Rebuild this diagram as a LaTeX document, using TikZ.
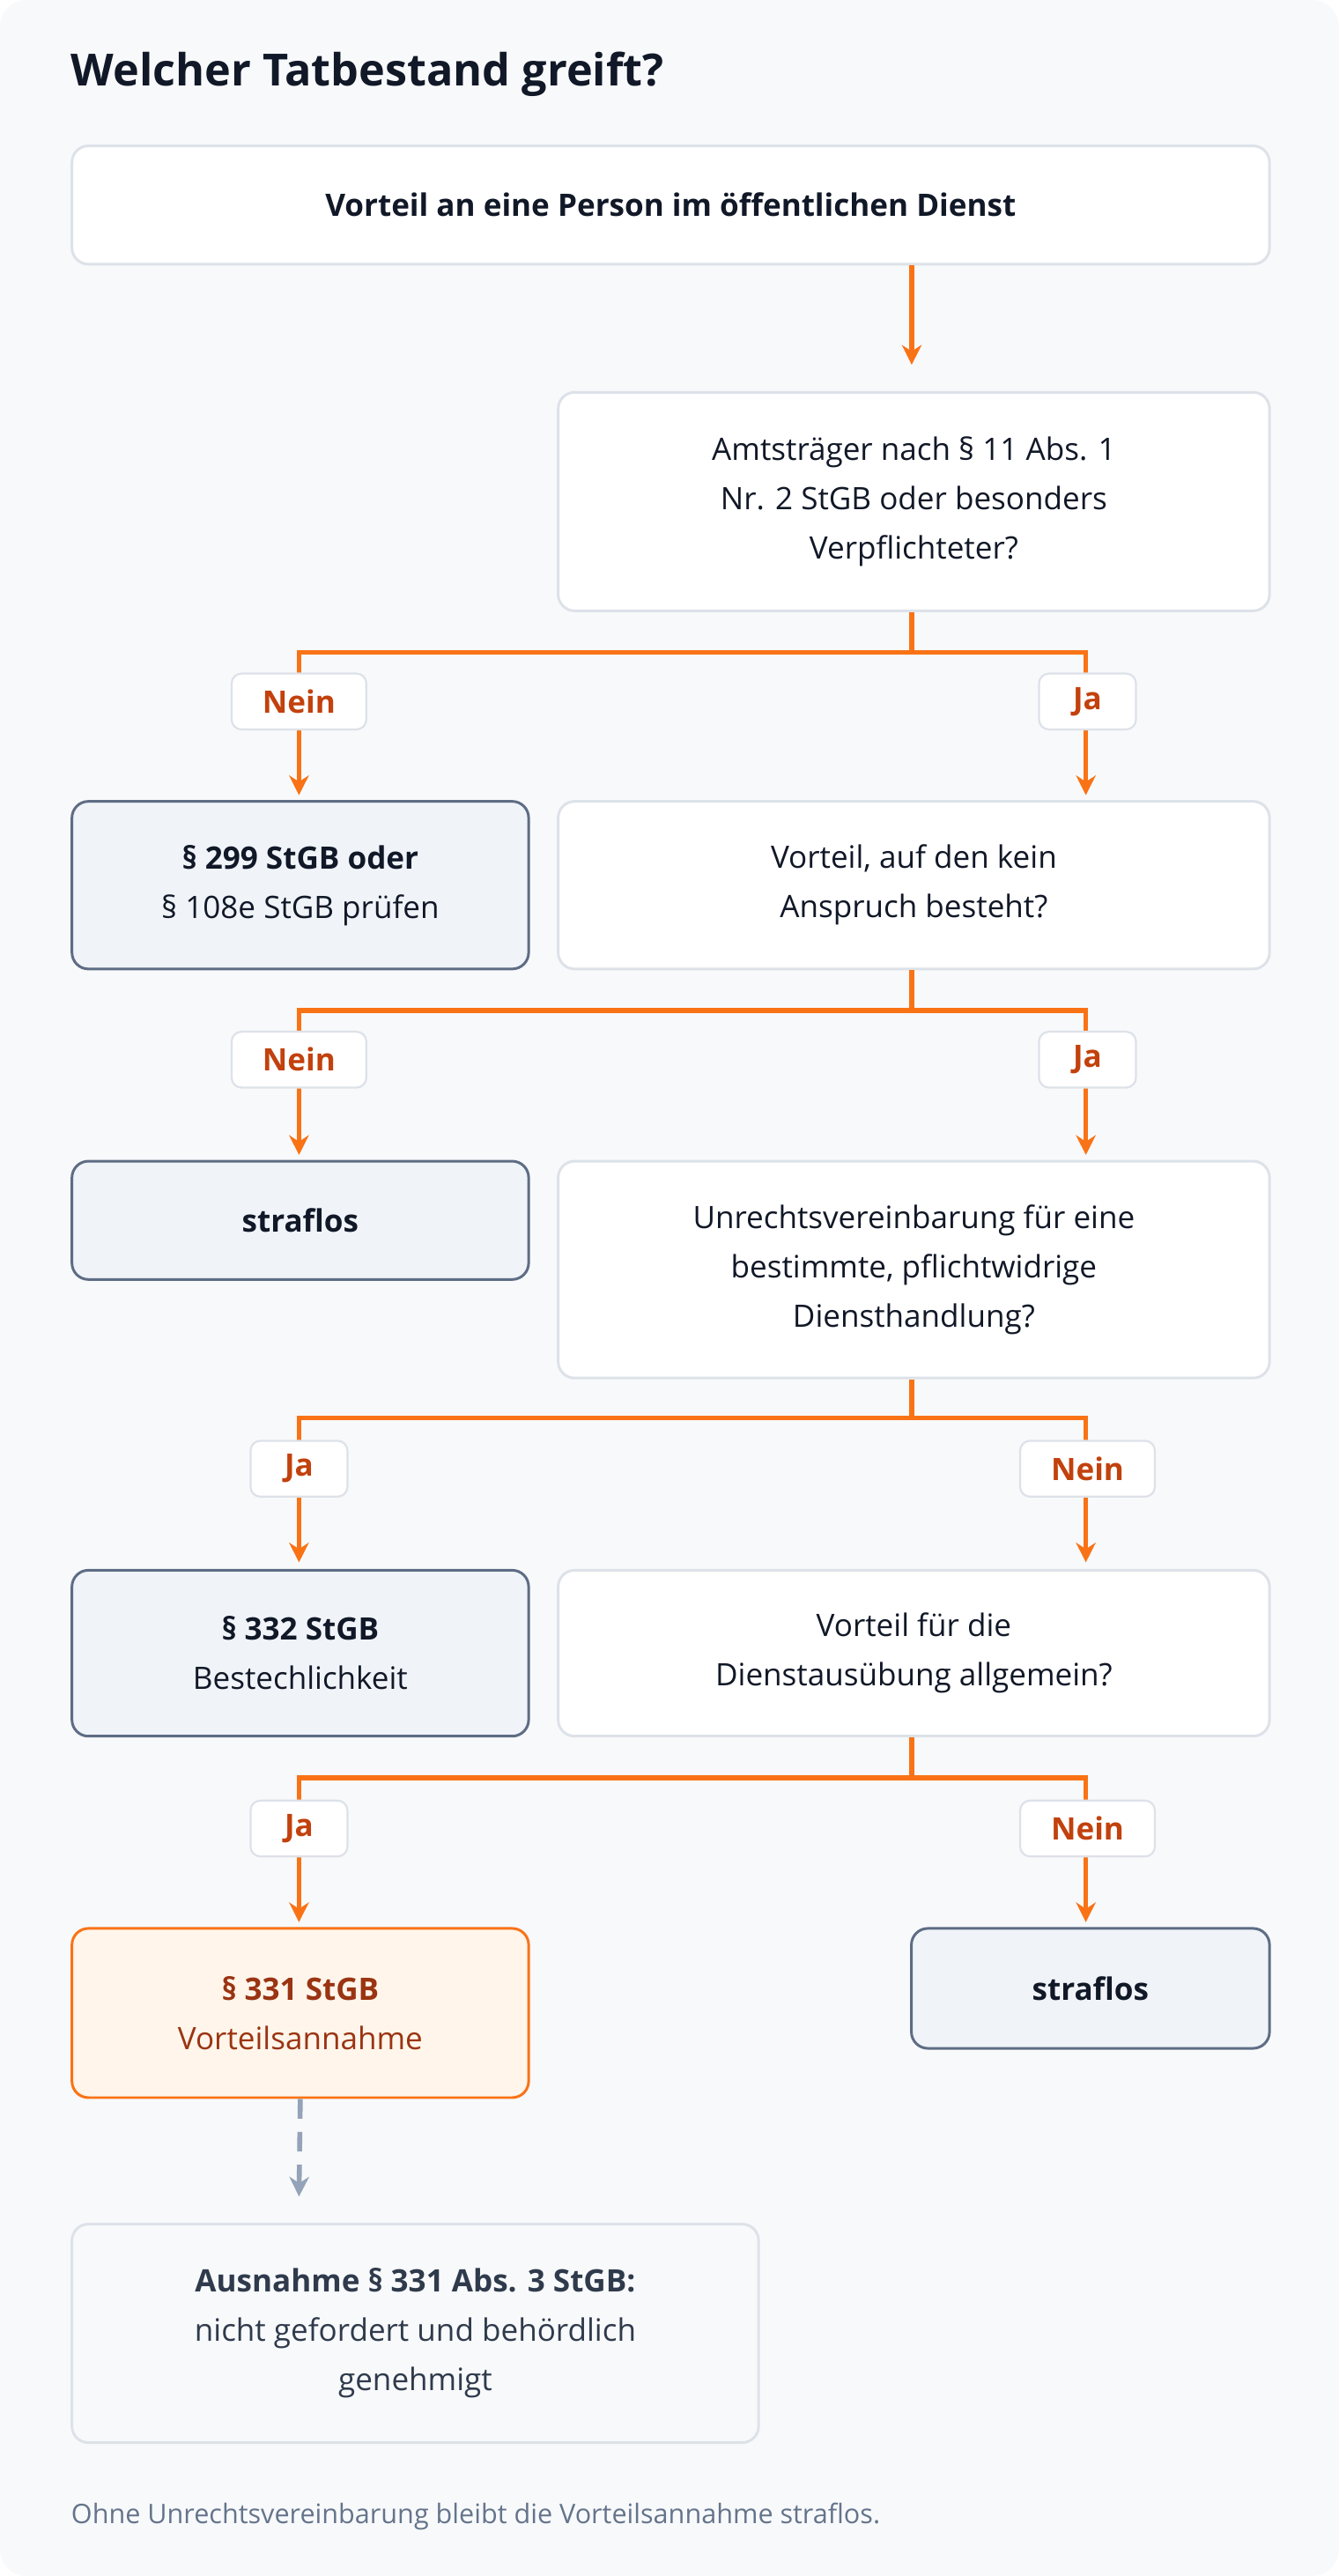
\documentclass[tikz,border=0pt]{standalone}
\usepackage{fontspec}
\setmainfont{Open Sans}
\usetikzlibrary{arrows.meta}
\definecolor{bgc}{HTML}{F8F9FB}
\definecolor{bordc}{HTML}{DDE2E9}
\definecolor{slate}{HTML}{5E6C84}
\definecolor{resfill}{HTML}{F0F4F9}
\definecolor{ink}{HTML}{111827}
\definecolor{orng}{HTML}{F97316}
\definecolor{orngdark}{HTML}{C2410C}
\definecolor{orngfill}{HTML}{FFF5EB}
\definecolor{brwn}{HTML}{9A3412}
\definecolor{grayt}{HTML}{64748B}
\definecolor{dashc}{HTML}{94A3B8}
\definecolor{exc}{HTML}{2F3B4C}
\begin{document}
\begin{tikzpicture}[x=0.5pt, y=-0.5pt,
    every node/.style={font=\fontsize{9.4}{15}\selectfont},
    question/.style={rectangle, draw=bordc, line width=0.8pt, rounded corners=5pt,
        fill=white, align=center, anchor=north west, text=ink,
        minimum width=216.5pt, inner sep=0pt},
    result/.style={rectangle, draw=slate, line width=0.8pt, rounded corners=5pt,
        fill=resfill, align=center, anchor=north west, text=ink,
        minimum width=139pt, inner sep=0pt},
    answer/.style={rectangle, draw=bordc, line width=0.6pt, rounded corners=3pt,
        fill=white, text=orngdark, font=\fontsize{9.4}{11}\selectfont\bfseries,
        minimum height=17pt, inner sep=0pt},
    line/.style={draw=orng, line width=1.5pt},
    arrow/.style={line, -{Stealth[length=6pt, width=6pt]}}]

% background
\fill[bgc, rounded corners=8pt] (0,0) rectangle (815,1568);
\useasboundingbox (0,0) rectangle (815,1568);

\node (title) [anchor=west, text=ink, font=\fontsize{13.5}{15}\selectfont\bfseries,
    inner sep=0pt] at (43,45) {Welcher Tatbestand greift?};

% boxes
\node (start) [question, minimum width=364.5pt, minimum height=36pt,
    font=\fontsize{9.4}{15}\selectfont\bfseries] at (43,88)
    {Vorteil an eine Person im öffentlichen Dienst};
\node (q1) [question, minimum height=66.5pt] at (339,238)
    {Amtsträger nach § 11 Abs. 1\\Nr. 2 StGB oder besonders\\Verpflichteter?};
\node (r1) [result, minimum height=51pt] at (43,487)
    {\textbf{§ 299 StGB oder}\\§ 108e StGB prüfen};
\node (q2) [question, minimum height=51pt] at (339,487)
    {Vorteil, auf den kein\\Anspruch besteht?};
\node (r2) [result, minimum height=36pt, font=\fontsize{9.4}{15}\selectfont\bfseries]
    at (43,706) {straflos};
\node (q3) [question, minimum height=66pt] at (339,706)
    {Unrechtsvereinbarung für eine\\bestimmte, pflichtwidrige\\Diensthandlung?};
\node (r3) [result, minimum height=50.5pt] at (43,955)
    {\textbf{§ 332 StGB}\\Bestechlichkeit};
\node (q4) [question, minimum height=50.5pt] at (339,955)
    {Vorteil für die\\Dienstausübung allgemein?};
\node (r4) [result, draw=orng, fill=orngfill, text=brwn, minimum height=51.5pt]
    at (43,1173) {\textbf{§ 331 StGB}\\Vorteilsannahme};
\node (r5) [result, minimum width=109pt, minimum height=36.5pt,
    font=\fontsize{9.4}{15}\selectfont\bfseries] at (554,1173) {straflos};
\node (exception) [question, fill=bgc, draw=bordc, text=exc, minimum width=209pt,
    minimum height=66.5pt] at (43,1353)
    {\textbf{Ausnahme § 331 Abs. 3 StGB:}\\nicht gefordert und behördlich\\genehmigt};

\node (note) [anchor=west, text=grayt, font=\fontsize{8.2}{9}\selectfont, inner sep=0pt]
    at (43,1532) {Ohne Unrechtsvereinbarung bleibt die Vorteilsannahme straflos.};

% connectors
\coordinate (e0) at (555,222);
\draw[arrow] (start.south -| e0) -- (e0);

\coordinate (s1) at (555,397);
\coordinate (l1) at (182,484);
\coordinate (g1) at (661,484);
\draw[line] (q1.south -| s1) -- (s1);
\draw[arrow] (s1) -| (l1);
\draw[arrow] (s1) -| (g1);

\coordinate (s2) at (555,615);
\coordinate (l2) at (182,703);
\coordinate (g2) at (661,703);
\draw[line] (q2.south -| s2) -- (s2);
\draw[arrow] (s2) -| (l2);
\draw[arrow] (s2) -| (g2);

\coordinate (s3) at (555,863);
\coordinate (l3) at (182,951);
\coordinate (g3) at (661,951);
\draw[line] (q3.south -| s3) -- (s3);
\draw[arrow] (s3) -| (l3);
\draw[arrow] (s3) -| (g3);

\coordinate (s4) at (555,1082);
\coordinate (l4) at (182,1170);
\coordinate (g4) at (661,1170);
\draw[line] (q4.south -| s4) -- (s4);
\draw[arrow] (s4) -| (l4);
\draw[arrow] (s4) -| (g4);

\coordinate (d1) at (182,1337);
\draw[draw=dashc, line width=1.5pt, dash pattern=on 6pt off 4pt,
    -{Stealth[length=6pt, width=6pt]}] (r4.south) -- (d1);

% answers
\node (a1n) [answer, minimum width=41pt] at (182,427) {Nein};
\node (a1j) [answer, minimum width=29.5pt] at (662,427) {Ja};
\node (a2n) [answer, minimum width=41pt] at (182,645) {Nein};
\node (a2j) [answer, minimum width=29.5pt] at (662,645) {Ja};
\node (a3j) [answer, minimum width=29.5pt] at (182,894) {Ja};
\node (a3n) [answer, minimum width=41pt] at (662,894) {Nein};
\node (a4j) [answer, minimum width=29.5pt] at (182,1113) {Ja};
\node (a4n) [answer, minimum width=41pt] at (662,1113) {Nein};
\end{tikzpicture}
\end{document}
